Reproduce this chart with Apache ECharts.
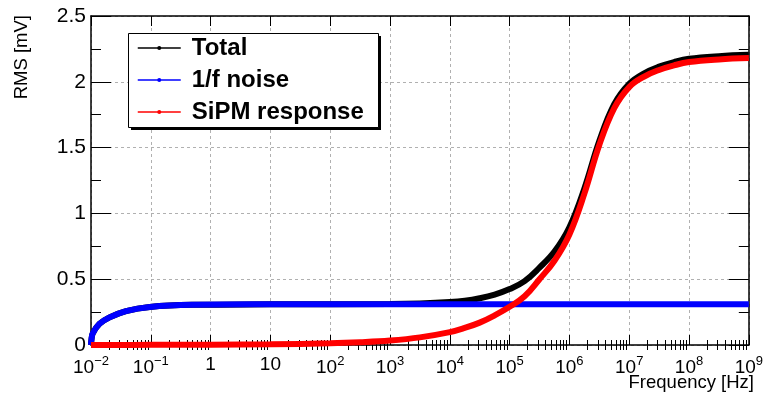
<!DOCTYPE html>
<html>
<head>
<meta charset="utf-8">
<script src="https://cdn.jsdelivr.net/npm/echarts@6/dist/echarts.min.js"></script>
<style>
html,body{margin:0;padding:0;background:#fff;}
#chart{width:766px;height:394px;}
</style>
</head>
<body>
<div id="chart"></div>
<script>
// ---- data ----
const seriesNames = ['Total', '1/f noise', 'SiPM response'];

const totalFreq = [1e-2, 1.02e-2, 1.07e-2, 1.38e-2, 2.04e-2, 3.85e-2, 9.6e-2, 0.49, 10, 1e3, 3.16e3, 1e4, 1.78e4, 3.16e4, 5.62e4, 1e5, 1.78e5, 3.16e5, 5.62e5, 1e6, 1.78e6, 3.16e6, 5.62e6, 1e7, 1.78e7, 3.16e7, 5.62e7, 1e8, 3.16e8, 1e9];
const totalRms  = [0, 0.045, 0.088, 0.16, 0.21, 0.258, 0.289, 0.305, 0.309, 0.312, 0.316, 0.326, 0.336, 0.355, 0.383, 0.425, 0.485, 0.588, 0.71, 0.895, 1.19, 1.55, 1.83, 1.985, 2.065, 2.115, 2.15, 2.175, 2.195, 2.205];

const noiseFreq = [1e-2, 1.02e-2, 1.07e-2, 1.38e-2, 2.04e-2, 3.85e-2, 9.6e-2, 0.49, 10, 1e3, 1e5, 1e7, 1e9];
const noiseRms  = [0, 0.045, 0.088, 0.16, 0.21, 0.258, 0.289, 0.305, 0.309, 0.31, 0.31, 0.31, 0.31];

const sipmFreq = [1e-2, 1e-1, 1, 10, 1e2, 3.16e2, 1e3, 3.16e3, 1e4, 1.78e4, 3.16e4, 5.62e4, 1e5, 1.78e5, 3.16e5, 5.62e5, 1e6, 1.78e6, 3.16e6, 5.62e6, 1e7, 1.78e7, 3.16e7, 5.62e7, 1e8, 3.16e8, 1e9];
const sipmRms  = [0, 0.001, 0.002, 0.005, 0.013, 0.021, 0.034, 0.058, 0.098, 0.13, 0.17, 0.225, 0.29, 0.37, 0.5, 0.64, 0.84, 1.15, 1.52, 1.80, 1.96, 2.04, 2.09, 2.125, 2.15, 2.17, 2.18];

const xMin = 1e-2, xMax = 1e9;
const yMin = 0, yMax = 2.5, yStep = 0.5;
const minorMultipliers = [2, 3, 4, 5, 6, 7, 8, 9];
const xTitle = 'Frequency [Hz]';
const yTitle = 'RMS [mV]';
const colors = ['#000000', '#0000ff', '#ff0000'];

function pairs(xs, ys) { return xs.map((x, i) => [x, ys[i]]); }

const minorTicks = [];
for (let e = Math.round(Math.log10(xMin)); e < Math.round(Math.log10(xMax)); e++) {
  minorMultipliers.forEach(m => minorTicks.push(Number((m * Math.pow(10, e)).toPrecision(3))));
}

function xLabel(v) {
  const e = Math.round(Math.log10(v));
  if (e === 0) return '1';
  if (e === 1) return '10';
  return '10{sup|' + (e < 0 ? '\u2212' + (-e) : e) + '}';
}

const FONT = 'Liberation Sans';
const chart = echarts.init(document.getElementById('chart'), null, {renderer: 'canvas'});

const frameLine = {show: true, onZero: false, lineStyle: {color: '#000', width: 1.5}};
const baseX = {
  type: 'log', logBase: 10, min: xMin, max: xMax, interval: 1,
  axisLine: frameLine,
  axisTick: {show: true, inside: true, length: 10, lineStyle: {color: '#000', width: 1}},
  minorTick: {show: false}
};
const minorX = {
  type: 'log', logBase: 10, min: xMin, max: xMax,
  axisLine: {show: false},
  axisTick: {show: true, inside: true, length: 5, customValues: minorTicks, lineStyle: {color: '#000', width: 1}},
  axisLabel: {show: false},
  splitLine: {show: false}
};
const baseY = {
  type: 'value', min: yMin, max: yMax, interval: yStep,
  axisLine: frameLine,
  axisTick: {show: true, inside: true, length: 20, lineStyle: {color: '#000', width: 1}},
  minorTick: {show: true, splitNumber: 2, length: 10, lineStyle: {color: '#000', width: 1}},
};

// legend frame (box + solid drop shadow) placed like the ROOT TLegend
const legendBox = {left: 128, top: 33, width: 250, height: 94, shadow: 3};

const option = {
  animation: false,
  backgroundColor: '#ffffff',
  textStyle: {fontFamily: FONT},
  grid: {left: 91, right: 12, top: 16, bottom: 49},
  legend: {
    orient: 'vertical', left: legendBox.left, top: legendBox.top, z: 10,
    data: seriesNames,
    backgroundColor: 'transparent', borderWidth: 0,
    padding: [2, 16, 2, 9],
    itemWidth: 43, itemHeight: 5, itemGap: 6,
    lineStyle: {width: 1.5},
    textStyle: {fontSize: 24, fontWeight: 'bold', color: '#000', fontFamily: FONT, lineHeight: 26, padding: [0, 0, 0, 6]}
  },
  xAxis: [
    Object.assign({}, baseX, {
      position: 'bottom',
      splitLine: {show: true, lineStyle: {color: '#b0b0b0', width: 1, type: [3, 3]}},
      axisLabel: {
        show: true, margin: 10, color: '#000', fontSize: 19, fontFamily: FONT,
        formatter: xLabel,
        rich: {sup: {fontSize: 13, fontFamily: FONT, color: '#000', padding: [0, 0, 12, 0]}}
      }
    }),
    Object.assign({}, baseX, {
      position: 'top',
      splitLine: {show: false},
      axisLabel: {show: false}
    }),
    Object.assign({}, minorX, {position: 'bottom'}),
    Object.assign({}, minorX, {position: 'top'})
  ],
  yAxis: [
    Object.assign({}, baseY, {
      position: 'left',
      splitLine: {show: true, lineStyle: {color: '#b0b0b0', width: 1, type: [3, 3]}},
      axisLabel: {show: true, margin: 5, color: '#000', fontSize: 21, fontFamily: FONT}
    }),
    Object.assign({}, baseY, {
      position: 'right',
      splitLine: {show: false},
      axisLabel: {show: false}
    })
  ],
  graphic: [
    {type: 'rect', z: 8, silent: true,
     shape: {x: legendBox.left + legendBox.shadow, y: legendBox.top + legendBox.shadow, width: legendBox.width, height: legendBox.height},
     style: {fill: '#000'}},
    {type: 'rect', z: 9, silent: true,
     shape: {x: legendBox.left + 0.5, y: legendBox.top + 0.5, width: legendBox.width, height: legendBox.height},
     style: {fill: '#fff', stroke: '#000', lineWidth: 1}},
    {type: 'text', x: 22, y: 15, rotation: Math.PI / 2,
     style: {text: yTitle, fontSize: 18.5, fontFamily: FONT, fill: '#000', align: 'right', verticalAlign: 'middle', textAlign: 'right', textVerticalAlign: 'middle'}},
    {type: 'text', x: 754, y: 383,
     style: {text: xTitle, fontSize: 18.5, fontFamily: FONT, fill: '#000', align: 'right', verticalAlign: 'middle', textAlign: 'right', textVerticalAlign: 'middle'}}
  ],
  series: [
    {name: seriesNames[0], type: 'line', xAxisIndex: 0, yAxisIndex: 0, data: pairs(totalFreq, totalRms),
     smooth: 0.4, symbol: 'circle', symbolSize: 4, showSymbol: false, color: colors[0],
     lineStyle: {width: 6, color: colors[0]}, z: 3},
    {name: seriesNames[1], type: 'line', xAxisIndex: 0, yAxisIndex: 0, data: pairs(noiseFreq, noiseRms),
     smooth: 0.4, symbol: 'circle', symbolSize: 4, showSymbol: false, color: colors[1],
     lineStyle: {width: 6, color: colors[1]}, z: 4},
    {name: seriesNames[2], type: 'line', xAxisIndex: 0, yAxisIndex: 0, data: pairs(sipmFreq, sipmRms),
     smooth: 0.4, symbol: 'circle', symbolSize: 4, showSymbol: false, color: colors[2],
     lineStyle: {width: 6, color: colors[2]}, z: 5}
  ]
};
chart.setOption(option);
</script>
</body>
</html>
